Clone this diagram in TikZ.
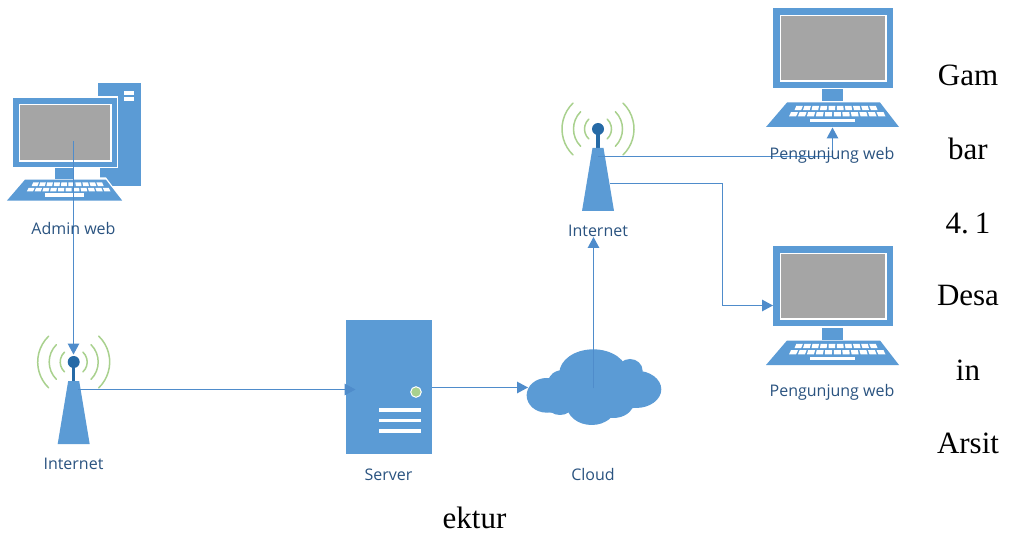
\documentclass[tikz,border=0pt]{standalone}
\usepackage{fontspec}
\setmainfont{Liberation Serif}
\newfontfamily\labelfont{Open Sans}
\usetikzlibrary{arrows.meta}
\definecolor{iconblue}{HTML}{5B9BD5}
\definecolor{linkblue}{HTML}{4F8CCB}
\definecolor{screengrey}{HTML}{A5A5A5}
\definecolor{signalgreen}{HTML}{A9D18E}
\definecolor{mastdark}{HTML}{266AA6}
\definecolor{labelblue}{HTML}{2A5380}
\tikzset{
  iconfill/.style={fill=iconblue,draw=none},
  iconlabel/.style={font=\labelfont\fontsize{16}{18}\selectfont,text=labelblue,inner sep=0pt,anchor=center},
  bodytext/.style={font=\fontsize{31}{36}\selectfont,text=black,inner sep=0pt,anchor=center},
  link/.style={draw=linkblue,line width=1.3pt},
  linkarrow/.style={link,-{Triangle[length=11pt,width=11.5pt,fill=linkblue]}},
  signal/.style={draw=signalgreen,line width=1.5pt,line cap=round},
  pics/monitor/.style={code={
    \fill[iconblue] (0,0) rectangle (120,80);
    \fill[screengrey,draw=white,line width=1.2pt] (7.5,7.5) rectangle (113,73);
    \fill[iconblue] (49,81.5) rectangle (70,93.5);
    \fill[iconblue] (14,94.5) -- (107,94.5) -- (126,119) -- (-7,119) -- cycle;
    \foreach \i in {0,...,9}{
      \pgfmathsetmacro{\xa}{21.5+\i*8.5}
      \pgfmathsetmacro{\sl}{1.8-\i*0.4}
      \fill[white] (\xa+\sl,97.8) -- (\xa+\sl+6.6,97.8) -- (\xa+6.6,102.2) -- (\xa,102.2) -- cycle;
    }
    \foreach \i in {0,...,10}{
      \pgfmathsetmacro{\xa}{16+\i*8.95}
      \pgfmathsetmacro{\sl}{2-\i*0.4}
      \fill[white] (\xa+\sl,104.2) -- (\xa+\sl+7,104.2) -- (\xa+7,108.4) -- (\xa,108.4) -- cycle;
    }
    \fill[white] (37,110.7) rectangle (82,114.3);
  }},
  pics/antenna/.style={code={
    \foreach \r/\a in {36/46,24.5/45,13.5/47}{
      \draw[signal] (\a:\r) arc[start angle=\a,end angle=-\a,radius=\r];
      \draw[signal] (180-\a:\r) arc[start angle=180-\a,end angle=180+\a,radius=\r];
    }
    \fill[mastdark] (-1.7,0) rectangle (1.7,19);
    \fill[mastdark] (0,0) circle[radius=6];
    \fill[iconblue] (-5.5,19) -- (5.5,19) -- (16,82) -- (-16,82) -- cycle;
  }}
}
\begin{document}
\begin{tikzpicture}[x=1pt,y=-1pt]
\useasboundingbox[fill=white] (0,0) rectangle (1009,537);

% admin computer
\fill[iconblue] (98,83) rectangle (141,186);
\fill[white] (124,91) rectangle (134,95);
\fill[white] (124,97) rectangle (134,101);
\fill[white] (11.5,96.5) rectangle (118,168.5);
\fill[white] (52,168) rectangle (99.5,179);
\fill[white] (19,177.5) -- (106,177.5) -- (124,201.5) -- (5,201.5) -- cycle;
\pic[xscale=0.867,yscale=0.8625] at (13,98) {monitor};

% visitor computers
\pic at (773,8) {monitor};
\pic at (773,246) {monitor};

% antennas
\pic at (73.7,362) {antenna};
\pic at (598,129) {antenna};

% server
\fill[iconfill] (346,320) rectangle (432,454);
\fill[signalgreen,draw=white,line width=1pt] (416,392) circle[radius=5.3];
\foreach \y in {410,420.5,431}{\fill[white] (379,\y-1.6) rectangle (421,\y+1.6);}

% cloud
\begin{scope}[shift={(330,310)},x=0.3333pt,y=-0.3333pt]
  \fill[iconblue] (790,190) ellipse[x radius=102,y radius=72];
  \fill[iconblue] (650,256) ellipse[x radius=60,y radius=52];
  \fill[iconblue] (918,238) ellipse[x radius=76,y radius=56];
  \fill[iconblue] (900,182) ellipse[x radius=38,y radius=35];
  \fill[iconblue] (785,285) ellipse[x radius=75,y radius=60];
  \fill[iconblue] (690,287) ellipse[x radius=38,y radius=28];
  \fill[iconblue] (670,280) ellipse[x radius=50,y radius=28];
  \fill[iconblue] (700,215) ellipse[x radius=45,y radius=35];
  \fill[iconblue] (800,240) ellipse[x radius=110,y radius=70];
  \fill[iconblue] (850,280) ellipse[x radius=60,y radius=44];
  \fill[iconblue] (880,275) ellipse[x radius=50,y radius=24];
\end{scope}

% connector end points
\coordinate (adminscreen) at (73.5,141);
\coordinate (leftmast) at (73.5,354.5);
\coordinate (leftbody) at (78,389.5);
\coordinate (serverin) at (355.5,389.5);
\coordinate (serverout) at (432,387.5);
\coordinate (cloudin) at (528,387.5);
\coordinate (cloudcentre) at (593.5,388);
\coordinate (rightlabel) at (593.5,237);
\coordinate (mastone) at (598,156.5);
\coordinate (visitorone) at (832.5,127.5);
\coordinate (masttwo) at (610,183.5);
\coordinate (bendtwo) at (722.5,183.5);
\coordinate (visitortwo) at (773,305.5);

\draw[linkarrow] (adminscreen) -- (leftmast);
\draw[linkarrow] (leftbody) -- (serverin);
\draw[linkarrow] (serverout) -- (cloudin);
\draw[linkarrow] (cloudcentre) -- (rightlabel);
\draw[linkarrow] (mastone) -| (visitorone);
\draw[linkarrow] (masttwo) -- (bendtwo) |- (visitortwo);

% labels
\node[iconlabel] (ladmin) at (73.5,228.5) {Admin web};
\node[iconlabel] (lint1) at (73.5,463.5) {Internet};
\node[iconlabel] (lserver) at (388.5,474.5) {Server};
\node[iconlabel] (lcloud) at (593,474.5) {Cloud};
\node[iconlabel] (lint2) at (598,230.5) {Internet};
\node[iconlabel] (lweb1) at (832,155) {Pengunjung web};
\node[iconlabel] (lweb2) at (832,392) {Pengunjung web};

% page text
\node[bodytext] (t1) at (968,75) {Gam};
\node[bodytext] (t2) at (968,149) {bar};
\node[bodytext] (t3) at (968,223) {4.\kern6pt1};
\node[bodytext] (t4) at (968,296) {Desa};
\node[bodytext] (t5) at (968,370) {in};
\node[bodytext] (t6) at (968,443) {Arsit};
\node[bodytext] (t7) at (474.5,518) {ektur};
\end{tikzpicture}
\end{document}
